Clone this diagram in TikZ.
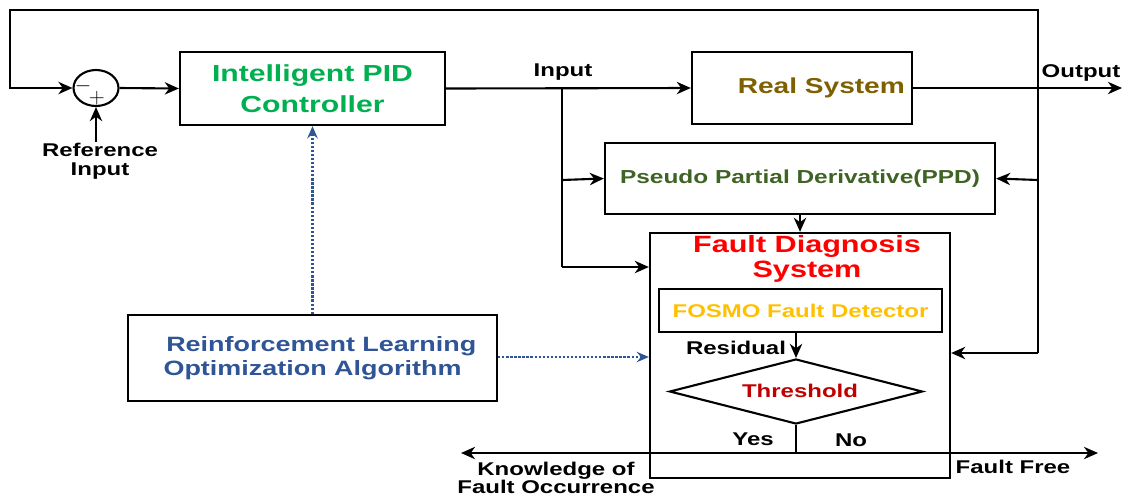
\documentclass[tikz,border=0pt]{standalone}
\usepackage{fontspec}
\setmainfont{Liberation Sans}
\newfontfamily\wide[FakeStretch=1.3]{Liberation Sans}
\usetikzlibrary{arrows.meta,shapes.geometric}
\newdimen\pxu \pxu=0.02cm
\definecolor{pidgreen}{RGB}{0,176,80}
\definecolor{realbrown}{RGB}{127,96,0}
\definecolor{ppdgreen}{RGB}{62,99,36}
\definecolor{fosmo}{RGB}{255,192,0}
\definecolor{thred}{RGB}{192,0,0}
\definecolor{rlblue}{RGB}{47,85,151}
\newcommand{\fs}[2]{\fontsize{#1}{#2}\selectfont\wide\bfseries}
\tikzset{
  box/.style={draw,line width=1.3pt,inner sep=0pt,align=center},
  line/.style={line width=1.2pt},
  arr/.style={line width=1.2pt,-{Stealth[length=8pt,width=7pt,inset=2.5pt]}},
  darr/.style={line width=1.3pt,rlblue,densely dotted,-{Stealth[length=7pt,width=6pt,inset=2.5pt]}},
  lbl/.style={inner sep=0pt,align=center,font=\fs{10.5}{11}},
}
\begin{document}
\begin{tikzpicture}[x=0.02cm,y=-0.02cm]
\useasboundingbox (0,0) rectangle (1124,498);
% blocks
\node[box,minimum width=265\pxu,minimum height=73\pxu,text=pidgreen,font=\fs{13.2}{17.6}] (pid) at (312.5,88.5) {Intelligent PID\\Controller};
\node[box,minimum width=220\pxu,minimum height=72\pxu,text=realbrown,font=\fs{12.3}{14}] (real) at (802,88) {\hspace*{22pt}Real System};
\node[box,minimum width=390\pxu,minimum height=71\pxu,text=ppdgreen,font=\fs{10.7}{12}] (ppd) at (800,178.5) {Pseudo Partial Derivative(PPD)};
\node[box,minimum width=300\pxu,minimum height=245\pxu] (fds) at (800,355.5) {};
\node[inner sep=0pt,align=center,text=red,font=\fs{13.4}{14.2}] (fdst) at (807,259) {Fault Diagnosis\\System};
\node[box,minimum width=283\pxu,minimum height=43\pxu,text=fosmo,font=\fs{10.5}{12}] (fosmo) at (800.5,310.5) {FOSMO Fault Detector};
\node[draw,line width=1.2pt,diamond,inner sep=0pt,minimum width=253\pxu,minimum height=65\pxu] (thr) at (796,391.5) {};
\node[inner sep=0pt,text=thred,font=\fs{10.5}{12}] (thrt) at (800,391) {Threshold};
\node[box,minimum width=369\pxu,minimum height=86\pxu,text=rlblue,font=\fs{11.8}{13.6}] (rl) at (312.5,358) {\hspace*{10pt}Reinforcement Learning\\Optimization Algorithm};
\node[draw,line width=1.2pt,ellipse,inner sep=0pt,minimum width=45\pxu,minimum height=36\pxu] (sum) at (96,88) {};
\node[inner sep=0pt,font=\fontsize{12}{12}\selectfont] (minus) at (83,86) {$-$};
\node[inner sep=0pt,font=\fontsize{12}{12}\selectfont] (plus) at (97,98) {$+$};
% labels
\node[lbl] (refin) at (100,161) {Reference\\Input};
\node[lbl] (inlbl) at (563,72) {Input};
\node[lbl] (outlbl) at (1081,73) {Output};
\node[lbl] (resid) at (736,348) {Residual};
\node[lbl] (yes) at (753,439) {Yes};
\node[lbl] (no) at (851,440) {No};
\node[lbl,font=\fs{10.5}{10.4}] (know) at (556,478) {Knowledge of\\Fault Occurrence};
\node[lbl] (ffree) at (1013,467) {Fault Free};
% coordinates
\coordinate (refb) at (96,142);
\coordinate (inJ) at (562,88);
\coordinate (inP) at (562,180);
\coordinate (inF) at (562,267);
\coordinate (outJ) at (1038,88);
\coordinate (outE) at (1122,88);
\coordinate (fbR) at (1038,10);
\coordinate (fbL) at (10,10);
\coordinate (oP) at (1038,180);
\coordinate (oF) at (1038,353);
\coordinate (yn) at (796,453);
\coordinate (kn) at (461,453);
\coordinate (ff) at (1098,453);
% connectors
\draw[arr] (refb) -- (sum.south);
\draw[arr] (sum.east) -- (pid.west);
\draw[arr] (pid.east) -- (real.west);
\draw[arr] (real.east) -- (outE);
\draw[arr] (outJ) -- (fbR) -- (fbL) |- (sum.west);
\draw[line] (outJ) -- (oF);
\draw[arr] (oP) -- (ppd.east);
\draw[arr] (oF) -- (fds.east |- oF);
\draw[line] (inJ) -- (inF);
\draw[arr] (inP) -- (ppd.west);
\draw[arr] (inF) -- (fds.west |- inF);
\draw[arr] (ppd.south) -- (fds.north);
\draw[arr] (fosmo.south -| thr.north) -- (thr.north);
\draw[line] (thr.south) -- (yn);
\draw[arr] (yn) -- (kn);
\draw[arr] (yn) -- (ff);
\draw[darr] (rl.north) -- (pid.south);
\draw[darr] (rl.east |- 0,357) -- (fds.west |- 0,357);
\end{tikzpicture}
\end{document}
